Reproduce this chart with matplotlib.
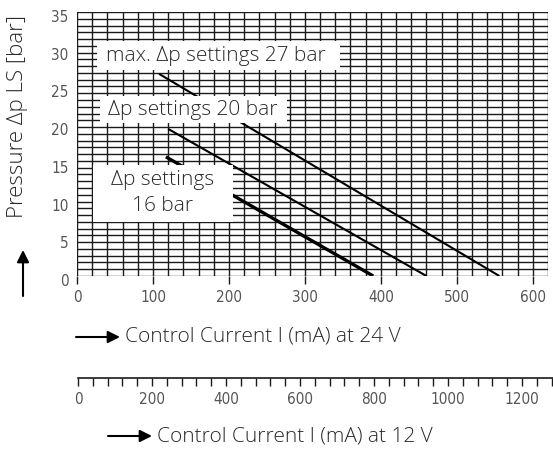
import numpy as np
import matplotlib
matplotlib.use("Agg")
import matplotlib.pyplot as plt
from matplotlib.patches import Rectangle, FancyArrowPatch
import matplotlib.transforms as mtransforms

# ---- data ----
line27_x = [108, 556]
line27_y = [26.8, 0.0]
line20_x = [120, 460]
line20_y = [19.5, 0.0]
line16_x = [117, 390]
line16_y = [15.8, 0.0]

x_ticks_24 = [0, 100, 200, 300, 400, 500, 600]
y_ticks = [0, 5, 10, 15, 20, 25, 30, 35]
x_ticks_12 = [0, 200, 400, 600, 800, 1000, 1200]

label27 = "max. Δp settings 27 bar"
label20 = "Δp settings 20 bar"
label16 = "Δp settings\n16 bar"
xlabel24 = "Control Current I (mA) at 24 V"
xlabel12 = "Control Current I (mA) at 12 V"
ylabel = "Pressure Δp LS [bar]"

W, H = 553, 449
fig = plt.figure(figsize=(W / 100, H / 100), dpi=100)

TXT = "#2a2a2a"
TCK = "#555555"
GRID = "#1a1a1a"
FS = 15
tick_kw = dict(family="DejaVu Sans", stretch="condensed", fontsize=11, color=TCK)
txt_font = ["Open Sans", "DejaVu Sans"]
WT = "light"

def fx(px):
    return px / W

def fy(py):
    return 1 - py / H

# main axes: x 77..548 px, y 12..276 px
ax = fig.add_axes([fx(77), fy(276), (548 - 77) / W, (276 - 12) / H])
ax.set_xlim(0, 620)
ax.set_ylim(0, 35)

# grid
for gx in np.arange(0, 621, 20):
    ax.axvline(gx, color=GRID, lw=1.0, zorder=1)
for gy in np.linspace(0, 35, 40):
    ax.axhline(gy, color=GRID, lw=1.0, zorder=1)

for s in ax.spines.values():
    s.set_visible(False)

# characteristic lines
ax.plot(line27_x, line27_y, color="black", lw=1.5, zorder=3, solid_capstyle="butt")
ax.plot(line20_x, line20_y, color="black", lw=1.5, zorder=3, solid_capstyle="butt")
ax.plot(line16_x, line16_y, color="black", lw=2.4, zorder=3, solid_capstyle="butt")

# label boxes (pixel -> data)
def dx(px):
    return (px - 77) / (471 / 620)

def dy(py):
    return (276 - py) / (264 / 35)

def box(x0, x1, y0, y1):
    ax.add_patch(Rectangle((dx(x0), dy(y1)), dx(x1) - dx(x0), dy(y0) - dy(y1),
                           facecolor="white", edgecolor="none", zorder=4))

box(97, 340, 41, 70)
box(100, 287, 96, 123)
box(93, 233, 165, 222)

ax.text(dx(216), dy(56), label27, ha="center", va="center", fontsize=FS,
        family=txt_font, weight=WT, color=TXT, zorder=5)
ax.text(dx(193), dy(110), label20, ha="center", va="center", fontsize=FS,
        family=txt_font, weight=WT, color=TXT, zorder=5)
ax.text(dx(163), dy(193), label16, ha="center", va="center", fontsize=FS,
        family=txt_font, weight=WT, color=TXT, zorder=5, linespacing=1.35)

# ticks
ax.set_xticks(x_ticks_24)
ax.set_xticklabels([str(v) for v in x_ticks_24], **tick_kw)
ax.tick_params(axis="x", direction="out", length=6, width=1.0, pad=4, colors=GRID,
               labelcolor=TCK)
ax.set_yticks(y_ticks)
ax.set_yticklabels([str(v) for v in y_ticks], **tick_kw)
ax.tick_params(axis="y", length=0, pad=6, labelcolor=TCK)
off = mtransforms.ScaledTranslation(0, -4 / 100, fig.dpi_scale_trans)
for lab in ax.get_yticklabels():
    lab.set_transform(lab.get_transform() + off)

# lower 12 V axis
ax2 = fig.add_axes([fx(78), fy(378), (553 - 78) / W, 0.0001])
ax2.set_xlim(0, 475 / 0.37)
ax2.set_ylim(0, 1)
for k in ["left", "right", "bottom"]:
    ax2.spines[k].set_visible(False)
ax2.spines["top"].set_linewidth(1.2)
ax2.spines["top"].set_color(GRID)
ax2.set_yticks([])
ax2.set_xticks(x_ticks_12)
ax2.set_xticks(np.arange(0, 1281, 40), minor=True)
ax2.set_xticklabels([str(v) for v in x_ticks_12], **tick_kw)
ax2.tick_params(axis="x", which="both", direction="out", length=6, width=1.0,
                colors=GRID, labelcolor=TCK, pad=4)
ax2.patch.set_visible(False)

# axis titles
fig.text(fx(125), fy(337), xlabel24, ha="left", va="center", fontsize=FS,
         family=txt_font, weight=WT, color=TXT)
fig.text(fx(157), fy(436), xlabel12, ha="left", va="center", fontsize=FS,
         family=txt_font, weight=WT, color=TXT)
fig.text(fx(18), fy(117), ylabel, ha="center", va="center", fontsize=16,
         family=txt_font, weight=WT, color=TXT, rotation=90)

def arrow(x0, y0, x1, y1):
    fig.add_artist(FancyArrowPatch((fx(x0), fy(y0)), (fx(x1), fy(y1)),
                                   transform=fig.transFigure, arrowstyle="-|>",
                                   mutation_scale=18, lw=1.5, color="black",
                                   shrinkA=0, shrinkB=0))

arrow(76, 337, 120, 337)
arrow(108, 436, 152, 436)
arrow(23, 296, 23, 250)

fig.savefig("out.png", dpi=100)
